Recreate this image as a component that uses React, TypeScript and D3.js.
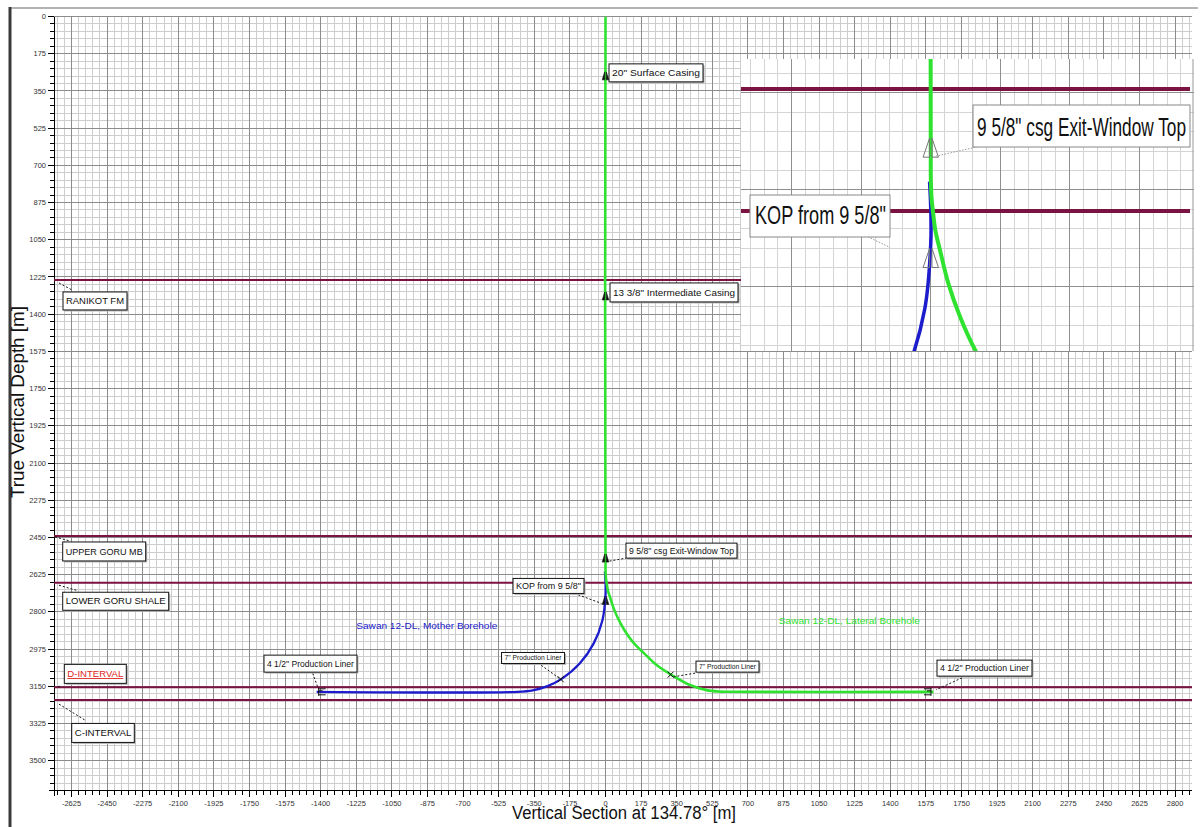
import React from "react";
import * as d3 from "d3";

// ---------- DATA ----------
const xTickLabels = [-2625, -2450, -2275, -2100, -1925, -1750, -1575, -1400, -1225, -1050, -875, -700, -525, -350, -175, 0, 175, 350, 525, 700, 875, 1050, 1225, 1400, 1575, 1750, 1925, 2100, 2275, 2450, 2625, 2800];
const yTickLabels = [0, 175, 350, 525, 700, 875, 1050, 1225, 1400, 1575, 1750, 1925, 2100, 2275, 2450, 2625, 2800, 2975, 3150, 3325, 3500];

const formationNames = ["RANIKOT FM", "UPPER GORU MB", "LOWER GORU SHALE", "D-INTERVAL", "C-INTERVAL"];
const formationTVD = [1239, 2443, 2663, 3155, 3215];

const lateralVS = [0, 0, 2, 5, 12, 23, 44, 74, 112, 140, 190, 251, 334, 415, 497, 560, 600, 1612];
const lateralTVD = [0, 2600, 2640, 2661, 2700, 2733, 2793, 2854, 2914, 2948, 2995, 3050, 3102, 3144, 3168, 3175, 3176, 3176];

const motherVS = [-3, 0, 0, -15, -58, -127, -216, -285, -357, -433, -1420];
const motherTVD = [2610, 2660, 2721, 2839, 2948, 3043, 3115, 3149, 3169, 3176, 3176];

const casingLabels = ['20" Surface Casing', '13 3/8" Intermediate Casing', '9 5/8" csg Exit-Window Top', 'KOP from 9 5/8"'];
const casingVS = [0, 0, 0, 0];
const casingTVD = [298, 1333, 2566, 2765];

const linerLabels = ['4 1/2" Production Liner', '7" Production Liner', '7" Production Liner', '4 1/2" Production Liner'];
const linerVS = [-1410, -220, 320, 1600];
const linerTVD = [3176, 3117, 3095, 3176];

const wellNames = ["Sawan 12-DL, Mother Borehole", "Sawan 12-DL, Lateral Borehole"];

// ---------- LAYOUT ----------
const W = 1200;
const H = 827;
const FONT = "'Liberation Sans', Arial, Helvetica, sans-serif";
const NARROW = "'Liberation Sans Narrow', 'Arial Narrow', 'Liberation Sans', Arial, sans-serif";
const MAROON = "#7a1242";
const GREEN = "#2fe22f";
const BLUE = "#1c1ccc";

const formationBox = [
  { dx: 9, dy: 12, w: 64, h: 18, lead: [[5, 3], [18, 10]] },
  { dx: 8.7, dy: 6, w: 83, h: 19, lead: [[1, 1], [16, 5]] },
  { dx: 8.7, dy: 9.5, w: 106, h: 18, lead: [[5, 2.5], [24, 8]] },
  { dx: 10.3, dy: -23, w: 62, h: 19, lead: [[4, -0.5], [7, -1.5]] },
  { dx: 17.7, dy: 23.3, w: 62.6, h: 19, lead: [[5, 4], [31, 20]] },
];
const casingBox = [
  { dx: 3.5, dy: -16, w: 94, h: 18, fs: 9, lead: null },
  { dx: 4.5, dy: -17, w: 128, h: 19, fs: 9, lead: null },
  { dx: 20.5, dy: -19, w: 111, h: 15, fs: 8.5, lead: [[4, -1], [20.5, -4]] },
  { dx: -92.5, dy: -26, w: 71, h: 15, fs: 8.5, lead: [[-31, -11], [-4, -1]] },
];
const linerBox = [
  { dx: -54.7, dy: -36.7, w: 93, h: 17, fs: 8.5, lead: [[-6, -18.5], [-1, -5]] },
  { dx: -59.2, dy: -26.8, w: 63, h: 11, fs: 7, lead: [[-19.5, -14], [-1.5, -1]] },
  { dx: 25.4, dy: -13.5, w: 63, h: 11, fs: 7, lead: [[24.5, -1.5], [1.5, 2.5]] },
  { dx: 6, dy: -31.7, w: 95, h: 16, fs: 8.5, lead: [[31, -14], [5, -2]] },
];
const wellNamePos = [
  { vs: -1225, tvd: 2867, color: BLUE },
  { vs: 852, tvd: 2843, color: GREEN },
];

function Shoe({ cx, cy, h, w, gap, fill, stroke, sw }: any) {
  const l = `M${cx - gap},${cy - h} L${cx - gap},${cy} L${cx - gap - w},${cy} Z`;
  const r = `M${cx + gap},${cy - h} L${cx + gap},${cy} L${cx + gap + w},${cy} Z`;
  return (
    <g>
      <path d={l} fill={fill} stroke={stroke} strokeWidth={sw} />
      <path d={r} fill={fill} stroke={stroke} strokeWidth={sw} />
    </g>
  );
}

function LabelBox({ x, y, w, h, text, fs, color, underline }: any) {
  return (
    <g>
      <rect x={x + 1.5} y={y + 1.5} width={w} height={h} fill="#b5b5b5" />
      <rect x={x} y={y} width={w} height={h} fill="#fff" stroke="#111" strokeWidth={1} />
      <text
        x={x + 3}
        y={y + h / 2 + fs * 0.36}
        fontSize={fs}
        fontFamily={FONT}
        fill={color || "#111"}
        textLength={w - 6}
        lengthAdjust="spacingAndGlyphs"
        textDecoration={underline ? "underline" : undefined}
      >
        {text}
      </text>
    </g>
  );
}

export default function App() {
  const x = d3.scaleLinear().domain([-2711, 2883]).range([54, 1192]);
  const y = d3.scaleLinear().domain([0, 3641]).range([16.5, 790.7]);
  const ix = d3.scaleLinear().domain([-478, 663]).range([741, 1194]);
  const iy = d3.scaleLinear().domain([2389, 2915.5]).range([59, 351]);

  const plotL = 54, plotR = 1192, plotT = 16.5, plotB = 790.7;
  const inL = 741, inR = 1194, inT = 59, inB = 351;

  const lateral: [number, number][] = lateralVS.map((v, i) => [v, lateralTVD[i]]);
  const mother: [number, number][] = motherVS.map((v, i) => [v, motherTVD[i]]);

  const lineMain = d3
    .line<[number, number]>()
    .x((d) => x(d[0]))
    .y((d) => y(d[1]))
    .curve(d3.curveCatmullRom.alpha(0.5));
  const lineInset = d3
    .line<[number, number]>()
    .x((d) => ix(d[0]))
    .y((d) => iy(d[1]))
    .curve(d3.curveCatmullRom.alpha(0.5));

  const minorX = d3.range(-2695, 2884, 35);
  const minorY = d3.range(0, 3641, 35);
  const isMajor = (v: number) => Math.abs(v % 175) < 1e-6;

  const inMinorX = d3.range(-455, 663, 35);
  const inMinorY = d3.range(2415, 2916, 35);

  return (
    <svg
      width={W}
      height={H}
      viewBox={`0 0 ${W} ${H}`}
      style={{ position: "absolute", left: 0, top: 0, background: "#fff" }}
    >
      <defs>
        <clipPath id="plotClip">
          <rect x={plotL} y={plotT} width={plotR - plotL} height={plotB - plotT} />
        </clipPath>
        <clipPath id="insetClip">
          <rect x={inL} y={inT} width={inR - inL} height={inB - inT} />
        </clipPath>
      </defs>
      <rect x={0} y={0} width={W} height={H} fill="#fff" />

      {/* outer frame */}
      <line x1={10} x2={1198} y1={8} y2={8} stroke="#9a9a9a" strokeWidth={1.5} />
      <line x1={10} x2={10} y1={7} y2={H} stroke="#3a3a3a" strokeWidth={3} />

      {/* grid */}
      <g shapeRendering="crispEdges">
        {minorX.filter((v) => !isMajor(v)).map((v) => (
          <line key={"mx" + v} x1={x(v)} x2={x(v)} y1={plotT} y2={plotB} stroke="#cdcdcd" strokeWidth={1} />
        ))}
        {minorY.filter((v) => !isMajor(v)).map((v) => (
          <line key={"my" + v} x1={plotL} x2={plotR} y1={y(v)} y2={y(v)} stroke="#cdcdcd" strokeWidth={1} />
        ))}
        {minorX.filter((v) => isMajor(v)).map((v) => (
          <line key={"Mx" + v} x1={x(v)} x2={x(v)} y1={plotT} y2={plotB} stroke="#8c8c8c" strokeWidth={1} />
        ))}
        {minorY.filter((v) => isMajor(v)).map((v) => (
          <line key={"My" + v} x1={plotL} x2={plotR} y1={y(v)} y2={y(v)} stroke="#8c8c8c" strokeWidth={1} />
        ))}
      </g>

      {/* axes */}
      <g shapeRendering="crispEdges">
        <line x1={plotL} x2={plotL} y1={plotT} y2={plotB + 5} stroke="#000" />
        <line x1={plotL - 5} x2={plotR} y1={plotB} y2={plotB} stroke="#000" />
        {minorY.map((v) => (
          <line key={"ty" + v} x1={plotL - (isMajor(v) ? 6 : 4)} x2={plotL} y1={y(v)} y2={y(v)} stroke="#000" />
        ))}
        {minorX.map((v) => (
          <line key={"tx" + v} x1={x(v)} x2={x(v)} y1={plotB} y2={plotB + (isMajor(v) ? 6 : 4)} stroke="#000" />
        ))}
      </g>
      {yTickLabels.map((v) => (
        <text key={"yl" + v} x={plotL - 8} y={y(v) + 2.6} fontSize={7.5} fontFamily={FONT} fill="#333" textAnchor="end">
          {v}
        </text>
      ))}
      {xTickLabels.map((v) => (
        <text key={"xl" + v} x={x(v)} y={806} fontSize={7.5} fontFamily={FONT} fill="#333" textAnchor="middle">
          {v}
        </text>
      ))}

      {/* axis titles */}
      <text
        x={624}
        y={819}
        fontSize={18}
        fontFamily={FONT}
        fill="#111"
        textAnchor="middle"
        textLength={224}
        lengthAdjust="spacingAndGlyphs"
      >
        Vertical Section at 134.78° [m]
      </text>
      <text
        transform={`translate(24,402) rotate(-90)`}
        fontSize={18}
        fontFamily={FONT}
        fill="#111"
        textAnchor="middle"
        textLength={192}
        lengthAdjust="spacingAndGlyphs"
      >
        True Vertical Depth [m]
      </text>

      {/* formation tops */}
      <g clipPath="url(#plotClip)">
        {formationTVD.map((t, i) => (
          <line key={"f" + i} x1={plotL} x2={plotR} y1={y(t)} y2={y(t)} stroke={MAROON} strokeWidth={2} />
        ))}
      </g>

      {/* wells */}
      <g clipPath="url(#plotClip)" fill="none">
        <path d={lineMain(mother) || ""} stroke={BLUE} strokeWidth={2.3} />
        <path d={lineMain(lateral) || ""} stroke={GREEN} strokeWidth={2.6} />
      </g>

      {/* casing shoes */}
      {casingTVD.map((t, i) => (
        <Shoe key={"cs" + i} cx={x(casingVS[i])} cy={y(t)} h={8} w={2.5} gap={0.8} fill="#111" stroke="#111" sw={0.6} />
      ))}
      {/* liner markers */}
      {linerVS.map((v, i) => {
        const cx = x(v);
        const cy = y(linerTVD[i]);
        const dir = i === 0 ? 1 : i === 3 ? -1 : 0;
        if (dir !== 0) {
          return (
            <g key={"lm" + i} stroke="#111" strokeWidth={1} fill="none">
              <line x1={cx} x2={cx + dir * 7} y1={cy - 3} y2={cy - 3} />
              <line x1={cx} x2={cx + dir * 7} y1={cy + 3} y2={cy + 3} />
              <line x1={cx} x2={cx} y1={cy - 4} y2={cy + 4} />
              <line x1={cx} x2={cx + dir * 4} y1={cy - 1} y2={cy - 1} />
            </g>
          );
        }
        return (
          <g key={"lm" + i} stroke="#111" strokeWidth={1} fill="none">
            <line x1={cx - 3} x2={cx + 3} y1={cy - 3} y2={cy + 3} />
            <line x1={cx - 3} x2={cx + 3} y1={cy + 3} y2={cy - 3} />
          </g>
        );
      })}

      {/* leaders */}
      <g stroke="#111" strokeWidth={1} strokeDasharray="2,2" fill="none">
        {formationTVD.map((t, i) => {
          const b = formationBox[i];
          return (
            <line key={"fl" + i} x1={plotL + b.lead[0][0]} y1={y(t) + b.lead[0][1]} x2={plotL + b.lead[1][0]} y2={y(t) + b.lead[1][1]} />
          );
        })}
        {casingTVD.map((t, i) => {
          const b = casingBox[i];
          if (!b.lead) return null;
          const ax = x(casingVS[i]);
          const ay = y(t);
          return <line key={"cl" + i} x1={ax + b.lead[0][0]} y1={ay + b.lead[0][1]} x2={ax + b.lead[1][0]} y2={ay + b.lead[1][1]} />;
        })}
        {linerTVD.map((t, i) => {
          const b = linerBox[i];
          const ax = x(linerVS[i]);
          const ay = y(t);
          return <line key={"ll" + i} x1={ax + b.lead[0][0]} y1={ay + b.lead[0][1]} x2={ax + b.lead[1][0]} y2={ay + b.lead[1][1]} />;
        })}
      </g>

      {/* label boxes */}
      {formationNames.map((n, i) => {
        const b = formationBox[i];
        return (
          <LabelBox
            key={"fb" + i}
            x={plotL + b.dx}
            y={y(formationTVD[i]) + b.dy}
            w={b.w}
            h={b.h}
            fs={9}
            text={n}
            color={i === 3 ? "#e02424" : "#111"}
            underline={i === 3}
          />
        );
      })}
      {casingLabels.map((n, i) => {
        const b = casingBox[i];
        return (
          <LabelBox key={"cb" + i} x={x(casingVS[i]) + b.dx} y={y(casingTVD[i]) + b.dy} w={b.w} h={b.h} fs={b.fs} text={n} />
        );
      })}
      {linerLabels.map((n, i) => {
        const b = linerBox[i];
        return (
          <LabelBox key={"lb" + i} x={x(linerVS[i]) + b.dx} y={y(linerTVD[i]) + b.dy} w={b.w} h={b.h} fs={b.fs} text={n} />
        );
      })}

      {/* well names */}
      {wellNames.map((n, i) => (
        <text
          key={"wn" + i}
          x={x(wellNamePos[i].vs)}
          y={y(wellNamePos[i].tvd) + 3}
          fontSize={9}
          fontFamily={FONT}
          fill={wellNamePos[i].color}
          textLength={141}
          lengthAdjust="spacingAndGlyphs"
        >
          {n}
        </text>
      ))}

      {/* ---------- INSET ---------- */}
      <rect x={inL} y={inT} width={inR - inL} height={inB - inT} fill="#fff" />
      <g clipPath="url(#insetClip)">
        <g shapeRendering="crispEdges">
          {inMinorX.filter((v) => !isMajor(v)).map((v) => (
            <line key={"imx" + v} x1={ix(v)} x2={ix(v)} y1={inT} y2={inB} stroke="#d4d4d4" />
          ))}
          {inMinorY.filter((v) => !isMajor(v)).map((v) => (
            <line key={"imy" + v} x1={inL} x2={inR} y1={iy(v)} y2={iy(v)} stroke="#d4d4d4" />
          ))}
          {inMinorX.filter((v) => isMajor(v)).map((v) => (
            <line key={"iMx" + v} x1={ix(v)} x2={ix(v)} y1={inT} y2={inB} stroke="#8f8f8f" />
          ))}
          {inMinorY.filter((v) => isMajor(v)).map((v) => (
            <line key={"iMy" + v} x1={inL} x2={inR} y1={iy(v)} y2={iy(v)} stroke="#8f8f8f" />
          ))}
        </g>
        {formationTVD.map((t, i) => (
          <line key={"if" + i} x1={inL} x2={inR - 4} y1={iy(t)} y2={iy(t)} stroke={MAROON} strokeWidth={4} />
        ))}
        <path d={lineInset(mother) || ""} stroke={BLUE} strokeWidth={3.5} fill="none" />
        <path d={lineInset(lateral.filter((d) => d[1] > 2300 || d[1] === 0)) || ""} stroke={GREEN} strokeWidth={4} fill="none" />
        {casingTVD.slice(2).map((t, i) => (
          <Shoe key={"ics" + i} cx={ix(casingVS[i + 2])} cy={iy(t)} h={19} w={6.5} gap={1.2} fill="none" stroke="#777" sw={1} />
        ))}
        <g stroke="#999" strokeWidth={1} strokeDasharray="1.5,1.5" fill="none">
          <line x1={ix(casingVS[2]) + 5} y1={iy(casingTVD[2]) - 1} x2={978} y2={146.7} />
          <line x1={868} y1={236.7} x2={890} y2={iy(casingTVD[3]) - 20} />
        </g>
      </g>
      {/* inset labels */}
      <g>
        <rect x={973} y={105} width={217} height={42} fill="#fff" stroke="#888" strokeWidth={1} />
        <text x={977} y={136} fontSize={25} fontFamily={NARROW} fill="#111" textLength={209} lengthAdjust="spacingAndGlyphs">
          {casingLabels[2]}
        </text>
        <rect x={750} y={195} width={140} height={42} fill="#fff" stroke="#888" strokeWidth={1} />
        <text x={755} y={224} fontSize={25} fontFamily={NARROW} fill="#111" textLength={131} lengthAdjust="spacingAndGlyphs">
          {casingLabels[3]}
        </text>
      </g>
      <line x1={inR - 1} x2={inR - 1} y1={inT} y2={inB} stroke="#999" />
    </svg>
  );
}
